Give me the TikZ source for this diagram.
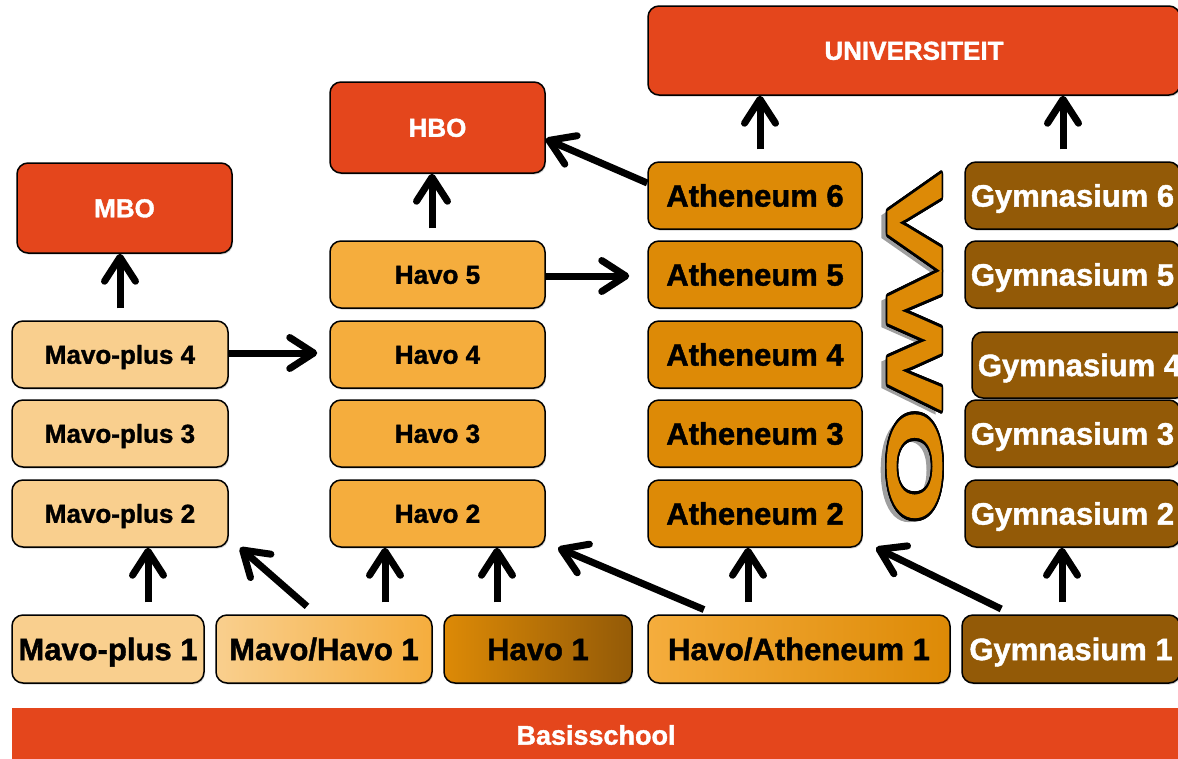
\documentclass[tikz,border=0pt]{standalone}
\usepackage{fontspec}
\setmainfont{Liberation Sans}[BoldFeatures={FakeBold=1.4}]
\usetikzlibrary{arrows.meta,shadows}
\definecolor{oranjerood}{HTML}{E4461C}
\definecolor{mavo}{HTML}{F9CF8E}
\definecolor{havo}{HTML}{F5AD3D}
\definecolor{athen}{HTML}{DD8A06}
\definecolor{gym}{HTML}{935A07}
\newcommand\groottxt{\fontsize{31}{36}\selectfont\bfseries}
\newcommand\middentxt{\fontsize{26}{30}\selectfont\bfseries}
\newcommand\vwotxt{\fontsize{77}{80}\selectfont\bfseries}
\tikzset{>={Straight Barb[length=24pt,width=31pt,round]}}
\tikzset{%
    box/.style={draw, line width=1.5pt, rounded corners=11pt, inner sep=0pt,
        minimum width=215pt, minimum height=67pt, text depth=0pt,
        drop shadow={shadow xshift=1pt,shadow yshift=-1.5pt,opacity=.35}},
    eind/.style={box, fill=oranjerood, text=white, font=\middentxt, text height=18.6pt},
    mavobox/.style={box, fill=mavo, font=\middentxt, text height=18.6pt},
    havobox/.style={box, fill=havo, font=\middentxt, text height=18.6pt},
    athbox/.style={box, fill=athen, font=\groottxt, text height=22.2pt},
    gymbox/.style={box, fill=gym, text=white, font=\groottxt, text height=22.2pt},
    onder/.style={box, font=\groottxt, text height=22.2pt, minimum height=68pt},
    vwo/.style={font=\vwotxt, inner sep=0pt, transform shape},
    pijl/.style={line width=7pt, ->, shorten <=12pt},
    pijlh/.style={line width=7pt, ->, shorten >=12pt}
}
\begin{document}
\begin{tikzpicture}[x=1pt,y=-1pt]
\useasboundingbox (0,0) rectangle (1178,758);
\clip (0,0) rectangle (1178,758);
% eindpunten
\node[eind, minimum height=90pt] (mbo) at (124.5,208) {MBO};
\node[eind, minimum height=91pt] (hbo) at (437.5,127.5) {HBO};
\node[eind, minimum height=89pt, minimum width=532pt] (uni) at (914,50.5) {UNIVERSITEIT};
% kolommen
\foreach \n/\y in {4/354.5,3/433.5,2/513.5}
    \node[mavobox, minimum width=216pt] (mp\n) at (120,\y) {Mavo-plus \n};
\foreach \n/\y in {5/274.5,4/354.5,3/433.5,2/513.5}
    \node[havobox] (h\n) at (437.5,\y) {Havo \n};
\foreach \n/\y in {6/195.5,5/274.5,4/354.5,3/433.5,2/513.5}
    \node[athbox, minimum width=214pt] (a\n) at (755,\y) {Atheneum \n};
\foreach \n/\y in {6/195.5,5/274.5,3/433.5,2/513.5}
    \node[gymbox] (g\n) at (1072.5,\y) {Gymnasium \n};
\node[gymbox, minimum height=66pt] (g4) at (1079.5,365) {Gymnasium 4};
% eerste jaar
\node[onder, fill=mavo, minimum width=192pt] (mp1) at (108,649) {Mavo-plus 1};
\node[onder, left color=mavo, right color=havo, minimum width=216pt] (mh1) at (324,649) {Mavo/Havo 1};
\node[onder, left color=athen, right color=gym, minimum width=188pt] (h1) at (538,649) {Havo 1};
\node[onder, left color=havo, right color=athen, minimum width=302pt] (ha1) at (799,649) {Havo/Atheneum 1};
\node[onder, fill=gym, text=white, minimum width=218pt] (g1) at (1071,649) {Gymnasium 1};
\node[fill=oranjerood, text=white, font=\fontsize{27}{30}\selectfont\bfseries,
    text height=19.3pt, text depth=0pt,
    minimum width=1168pt, minimum height=54pt, inner sep=0pt] (basis) at (596,735) {Basisschool};
% VWO
\begin{scope}[shift={(908.5,352.5)}, rotate=-90, xscale=1.9]
    \node[vwo, text=gray!75] at (0,0) {VWO};
\end{scope}
\begin{scope}[shift={(914.5,348.5)}, rotate=-90, xscale=1.9]
    \foreach \a in {0,20,...,340}
        \node[vwo, text=black] at (\a:1.7) {VWO};
    \node[vwo, text=athen] (vwo) at (0,0) {VWO};
\end{scope}
% pijlen
\draw[pijl] ([xshift=40pt]mp1.north) -- ([xshift=28pt]mp2.south);
\draw[pijl] ([xshift=-8pt]mh1.north) -- ([xshift=120pt]mp2.south);
\draw[pijl] ([xshift=61pt]mh1.north) -- ([xshift=-52.5pt]h2.south);
\draw[pijl] ([xshift=-41pt]h1.north) -- ([xshift=59.5pt]h2.south);
\draw[pijl] ([xshift=-84pt]ha1.north) -- ([xshift=120.5pt]h2.south);
\draw[pijl] ([xshift=-51pt]ha1.north) -- ([xshift=-7pt]a2.south);
\draw[pijl] ([xshift=-59pt]g1.north) -- ([xshift=121pt]a2.south);
\draw[pijl] ([xshift=-9pt]g1.north) -- ([xshift=-10.5pt]g2.south);
\draw[pijl] (mp4.north) -- ([xshift=-4.5pt]mbo.south);
\draw[pijl] ([xshift=-5.5pt]h5.north) -- ([xshift=-5.5pt]hbo.south);
\draw[pijl] ([xshift=5pt]a6.north) -- ([xshift=-154pt]uni.south);
\draw[pijl] ([xshift=-9.5pt]g6.north) -- ([xshift=149pt]uni.south);
\draw[pijlh] ([yshift=1.5pt]mp4.east) -- ([yshift=1.5pt]h4.west);
\draw[pijlh, shorten >=18pt] ([yshift=-1.5pt]h5.east) -- ([yshift=-1.5pt]a5.west);
\draw[pijl, shorten <=0pt] ([yshift=12.5pt]a6.west) -- ([yshift=-11.5pt]hbo.east);
\end{tikzpicture}
\end{document}
